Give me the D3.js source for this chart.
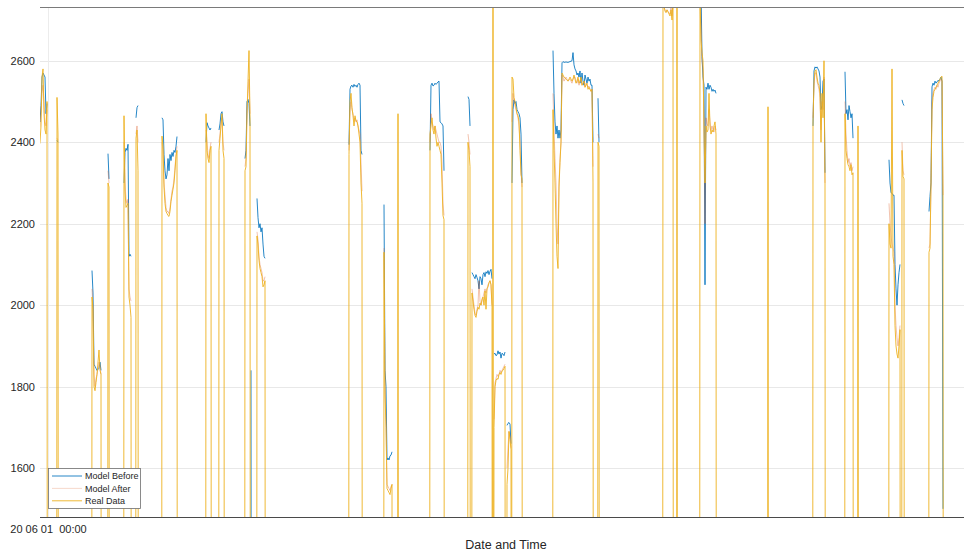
<!DOCTYPE html>
<html>
<head>
<meta charset="utf-8">
<script src="https://cdn.jsdelivr.net/npm/d3@7"></script>
<style>
  body { margin: 0; background: #fff; }
  text { font-family: "Liberation Sans", Arial, Helvetica, sans-serif; }
</style>
</head>
<body>
<svg id="chart" width="964" height="555"></svg>
<script>
// Hours after 2020-06-01 00:00. Real data reads 0 while the unit is stopped;
// the models give no output (null) outside operating runs.
const hours = [
  -12,-10,-8,-7,-6,-5,-4,-3,-2,-1,-0.5,
  8.5,9,10,10.5,
  43.5,44,45,46,47,48,49,51,52,53,53.5,
  59.5,60,61,61.5,
  75.5,76,77,78,79,80,81,82,83,83.5,
  87.5,88,89,90,90.5,
  113.5,114,115,116,117,118,119,120,121,122,123,124,125,126,127,128,129,129.5,
  157.5,158,159,160,161,162,163,163.5,
  170.5,171,172,173,174,175,176,176.5,
  196.5,197,198,199,200,201,202,202.5,203,203.5,
  208.5,209,210,211,212,213,214,215,216,217,217.5,
  300.5,301,302,303,304,305,306,307,308,309,310,311,312,313,314,314.5,
  335.5,336,337,338,339,340,341,342,343,344,344.5,
  349.5,350,350.5,
  381.5,382,383,384,385,386,387,388,389,390,391,392,393,394,395,396,396.5,
  419.5,420,421,422,422.5,
  423.5,424,425,426,427,428,429,430,431,432,433,434,435,436,437,438,439,440,441,442,443,444,444.5,
  445,445.5,
  446,447,448,449,450,451,452,453,454,455,456,457,457.5,
  458.5,459,460,461,462,463,463.5,
  464,465,466,467,468,469,470,471,472,473,474,474.5,
  504.5,505,506,507,508,509,510,511,512,513,514,515,516,518,520,522,
  524,525,526,527,528,529,530,531,532,533,534,535,536,537,538,539,540,541,542,543,544,545,545.5,
  549.5,550,551,551.5,
  614.5,615,616,617,618,619,620,621,622,623,624,625,625.5,
  628.5,629,629.5,
  651.5,652,653,654,655,656,657,658,659,660,661,662,663,664,665,666,667,668,668.5,
  719.5,720,720.5,
  764.5,765,766,767,768,769,770,771,772,773,774,775,776,777,777.5,
  796.5,797,798,799,800,801,802,803,804,805,805.5,
  809.5,810,810.5,
  840.5,841,842,843,844,845,846,847,848,849,850,851,852,852.5,
  853.5,854,855,856,856.5,
  880.5,881,882,883,884,885,886,887,888,889,890,891,892,893,894,895,895.5
];

const modelBefore = [
  2440,2460,2450,2490,2560,2570,2565,2560,2470,2495,null,
  null,2405,2400,null,
  null,2085,2030,1855,1850,1845,1840,1845,1860,1840,null,
  null,2372,2310,null,
  null,2300,2375,2385,2380,2395,2120,2125,2120,null,
  null,2460,2485,2490,null,
  null,2460,2455,2370,2330,2310,2320,2360,2330,2370,2355,2375,2365,2380,2375,2390,2414,null,
  null,2400,2448,2440,2435,2430,2435,null,
  null,2430,2445,2470,2475,2450,2440,null,
  null,2360,2380,2500,2505,2495,2440,null,1840,0,
  null,2262,2215,2190,2200,2180,2190,2150,2120,2115,null,
  null,2394,2530,2538,2540,2535,2542,2537,2540,2535,2542,2545,2540,2380,2370,null,
  null,2247,1840,1800,1620,1625,1620,1630,1632,1640,null,
  null,2360,null,
  null,2380,2540,2545,2538,2540,2545,2542,2545,2548,2550,2450,2448,2445,2440,2330,null,
  null,2512,2505,2440,null,
  null,2080,2075,2070,2065,2075,2068,2060,2040,2070,2065,2050,2075,2080,2070,2082,2078,2085,2075,2083,2088,2065,null,
  null,null,
  1880,1882,1876,1878,1888,1880,1885,1870,1882,1880,1876,1885,null,
  null,1705,1710,1712,1708,1660,null,
  2300,2480,2504,2495,2500,2480,2475,2470,2460,2420,2300,null,
  null,2625,2520,2450,2420,2440,2410,2430,2410,2430,2595,2598,2596,2597,2596,2598,
  2600,2620,2590,2580,2575,2565,2570,2560,2575,2545,2570,2550,2540,2565,2555,2545,2560,2550,2555,2540,2540,2400,null,
  null,2508,2400,null,
  null,2760,2760,2760,2760,2760,2760,2760,2760,2760,2760,2760,null,
  null,2800,null,
  null,2800,2780,2610,2560,2540,2050,2535,2530,2545,2530,2540,2535,2525,2530,2525,2528,2520,null,
  null,2553,null,
  null,2440,2575,2585,2582,2585,2580,2575,2560,2480,2490,2550,2555,2325,null,
  null,2573,2470,2480,2455,2490,2475,2460,2470,2410,null,
  null,2533,null,
  null,2357,2300,2276,2275,2270,2270,2100,2040,2000,2050,2080,2100,null,
  null,2504,2495,2490,null,
  null,2230,2267,2300,2536,2545,2540,2550,2545,2548,2552,2550,2555,2560,2550,1500,null
];

const modelAfter = [
  2400,2420,2440,2480,2520,2540,2500,2450,2440,2480,null,
  null,2410,2405,null,
  null,2040,1990,1830,1800,1820,1830,1860,1850,1830,null,
  null,2330,2300,null,
  null,2400,2300,2260,2250,2260,2040,2020,2010,null,
  null,2420,2440,2400,null,
  null,2400,2380,2300,2270,2240,2230,2230,2225,2240,2260,2280,2290,2310,2340,2370,2390,null,
  null,2430,2400,2370,2360,2385,2400,null,
  null,2400,2420,2450,2460,2400,2380,null,
  null,2340,2360,2480,2520,2555,2470,null,null,null,
  null,2180,2160,2120,2100,2090,2080,2060,2060,2070,null,
  null,2380,2480,2500,2480,2470,2455,2460,2450,2455,2440,2430,2420,2350,2280,null,
  null,2140,1800,1720,1560,1555,1550,1545,1555,1560,null,
  null,2370,null,
  null,2400,2470,2450,2440,2430,2440,2430,2420,2410,2400,2400,2390,2350,2250,2220,null,
  null,2420,2400,2370,null,
  null,2040,2020,2000,1980,1975,1990,2000,2060,2010,2000,2010,2020,2030,2040,2030,2040,2050,2055,2060,2050,2000,null,
  null,null,
  1720,1810,1820,1830,1825,1830,1840,1835,1840,1845,1850,1855,null,
  null,1600,1650,1690,1680,1650,null,
  2450,2520,2500,2490,2480,2470,2460,2440,2400,2330,2290,null,
  null,2520,2430,2360,2300,2200,2150,2300,2360,2400,2565,2560,2550,2560,2550,2555,
  2545,2555,2560,2560,2550,2545,2555,2540,2550,2555,2540,2545,2550,2535,2545,2540,2535,2538,2530,2525,2530,2340,null,
  null,2420,2410,null,
  null,2740,2730,2725,2720,2725,2720,2718,2715,2730,2710,2750,null,
  null,2800,null,
  null,2780,2700,2600,2580,2450,2200,2460,2445,2440,2480,2450,2430,2440,2430,2425,2440,2430,null,
  null,2480,null,
  null,2460,2540,2570,2570,2550,2540,2530,2510,2430,2500,2480,2560,2300,null,
  null,2500,2420,2380,2350,2360,2340,2350,2330,2340,null,
  null,2450,null,
  null,2250,2200,2170,2150,2140,2130,2000,1950,1920,1900,1920,1950,null,
  null,2400,2330,2320,null,
  null,2140,2150,2300,2500,2520,2530,2535,2530,2540,2535,2545,2550,2555,2550,2270,null
];

const realData = [
  2370,2380,2400,2440,2560,2580,2470,2430,2420,2500,0,
  0,2510,2420,0,
  0,2020,1990,1800,1790,1810,1830,1890,1840,1830,0,
  0,2300,2290,0,
  0,2465,2280,2240,2245,2250,2020,2000,1970,0,
  0,2410,2430,2330,0,
  0,2415,2390,2290,2250,2230,2225,2220,2218,2230,2255,2270,2285,2300,2330,2365,2380,0,
  0,2470,2380,2360,2350,2380,2390,0,
  0,2380,2410,2440,2470,2380,2360,0,
  0,2330,2340,2470,2550,2625,2460,0,0,0,
  0,2170,2150,2110,2090,2080,2070,2045,2050,2060,0,
  0,2370,2500,2520,2485,2465,2440,2465,2452,2450,2440,2420,2400,2300,2250,0,
  0,2130,1780,1700,1550,1545,1540,1535,1550,1560,0,
  0,2470,0,
  0,2420,2440,2460,2430,2420,2440,2410,2390,2400,2390,2380,2370,2300,2220,2210,0,
  0,2400,2380,2340,0,
  0,2030,2010,1990,1975,1970,1985,1995,1990,2005,2000,2015,2020,2000,2035,1990,2040,2045,2055,2060,2050,1995,0,
  2800,0,
  1700,1800,1815,1820,1818,1830,1835,1830,1838,1840,1845,1850,0,
  0,1560,1600,1690,1670,1645,0,
  2560,2555,2510,2500,2485,2470,2465,2450,2380,2320,2310,0,
  0,2480,2380,2300,2200,2120,2090,2290,2350,2400,2570,2565,2560,2555,2550,2560,
  2550,2555,2565,2555,2545,2550,2560,2545,2550,2560,2540,2545,2550,2535,2540,2545,2530,2535,2530,2525,2530,2300,0,
  0,2400,2390,0,
  0,2760,2735,2722,2718,2725,2720,2715,2710,2725,2700,2750,0,
  0,2800,0,
  0,2760,2650,2620,2600,2430,2300,2440,2425,2430,2520,2440,2420,2430,2425,2440,2450,2420,0,
  0,2487,0,
  0,2450,2550,2575,2578,2560,2545,2540,2520,2400,2520,2460,2600,2300,0,
  0,2470,2380,2360,2345,2340,2330,2345,2320,2325,0,
  0,2440,0,
  0,2200,2150,2140,2580,2120,2100,1950,1900,1880,1870,1900,1940,0,
  0,2380,2316,2310,0,
  0,2130,2140,2300,2480,2510,2525,2530,2535,2540,2545,2550,2555,2560,2562,2270,0
];

const seriesNames = ["Model Before", "Model After", "Real Data"];
const seriesColors = ["#0072BD", "#D95319", "#EDB120"];
const seriesOpacity = [0.85, 0.35, 0.9];
const yTicks = [1600, 1800, 2000, 2200, 2400, 2600];
const yDomain = [1480, 2732];
const xAxisLabel = "Date and Time";

const startDate = new Date(2020, 5, 1, 0, 0);
const toDate = h => new Date(startDate.getTime() + h * 3600e3);

const svg = d3.select("#chart");
const plot = { left: 40, right: 964, top: 7, bottom: 517 };

const x = d3.scaleTime()
  .domain([toDate(-8), toDate(916)])
  .range([plot.left, plot.right]);
const y = d3.scaleLinear().domain(yDomain).range([plot.bottom, plot.top]);

svg.append("defs").append("clipPath").attr("id", "plotClip")
  .append("rect")
  .attr("x", plot.left).attr("y", plot.top)
  .attr("width", plot.right - plot.left).attr("height", plot.bottom - plot.top);

// Grid
const grid = svg.append("g");
grid.selectAll("line.h").data(yTicks).join("line")
  .attr("x1", plot.left).attr("x2", plot.right)
  .attr("y1", d => Math.round(y(d)) + 0.5).attr("y2", d => Math.round(y(d)) + 0.5)
  .attr("stroke", "#e8e8e8").attr("stroke-width", 1);
grid.append("line")
  .attr("x1", Math.round(x(startDate)) + 0.5).attr("x2", Math.round(x(startDate)) + 0.5)
  .attr("y1", plot.top).attr("y2", plot.bottom)
  .attr("stroke", "#ececec").attr("stroke-width", 1);

// Series lines, drawn in legend order so Real Data sits on top
const series = [modelBefore, modelAfter, realData];
const lineGen = d3.line()
  .defined(d => d != null)
  .x((d, i) => x(toDate(hours[i])))
  .y(d => y(d));
const lines = svg.append("g").attr("clip-path", "url(#plotClip)");
series.forEach((vals, k) => {
  lines.append("path")
    .datum(vals)
    .attr("d", lineGen)
    .attr("fill", "none")
    .attr("stroke", seriesColors[k])
    .attr("stroke-opacity", seriesOpacity[k])
    .attr("stroke-width", 1)
    .attr("stroke-linejoin", "round");
});

// Box lines
svg.append("line")
  .attr("x1", plot.left).attr("x2", plot.right)
  .attr("y1", plot.top + 0.5).attr("y2", plot.top + 0.5)
  .attr("stroke", "#7a7a7a").attr("stroke-width", 1);
svg.append("line")
  .attr("x1", plot.left).attr("x2", plot.right)
  .attr("y1", plot.bottom + 0.5).attr("y2", plot.bottom + 0.5)
  .attr("stroke", "#4a4a4a").attr("stroke-width", 1);

// Axes
const yAxis = svg.append("g")
  .attr("transform", `translate(${plot.left},0)`)
  .call(d3.axisLeft(y).tickValues(yTicks).tickSize(0).tickPadding(5).tickFormat(d3.format("d")));
yAxis.select(".domain").remove();
yAxis.selectAll("text").attr("font-size", 11).attr("fill", "#262626")
  .style("font-family", '"Liberation Sans", Arial, sans-serif');

const xAxis = svg.append("g")
  .attr("transform", `translate(0,${plot.bottom})`)
  .call(d3.axisBottom(x).tickValues([startDate]).tickSize(0).tickPadding(8)
    .tickFormat(d3.timeFormat("%y %m %d  %H:%M")));
xAxis.select(".domain").remove();
xAxis.selectAll("text").attr("font-size", 11).attr("fill", "#262626")
  .style("white-space", "pre")
  .style("font-family", '"Liberation Sans", Arial, sans-serif');

svg.append("text")
  .attr("x", (plot.left + plot.right) / 2 + 4)
  .attr("y", 549)
  .attr("text-anchor", "middle")
  .attr("font-size", 12.5)
  .attr("fill", "#262626")
  .text(xAxisLabel);

// Legend
const legend = svg.append("g").attr("transform", "translate(48,468)");
legend.append("rect")
  .attr("x", 0.5).attr("y", 0.5).attr("width", 92).attr("height", 40)
  .attr("fill", "#fff").attr("stroke", "#6e6e6e").attr("stroke-width", 0.8);
seriesNames.forEach((name, k) => {
  const yy = 8 + k * 12.4;
  legend.append("line")
    .attr("x1", 4).attr("x2", 34).attr("y1", yy).attr("y2", yy)
    .attr("stroke", seriesColors[k])
    .attr("stroke-opacity", k === 1 ? 0.22 : seriesOpacity[k])
    .attr("stroke-width", 1);
  legend.append("text")
    .attr("x", 37).attr("y", yy + 3.2)
    .attr("font-size", 9).attr("fill", "#262626")
    .text(name);
});
</script>
</body>
</html>
